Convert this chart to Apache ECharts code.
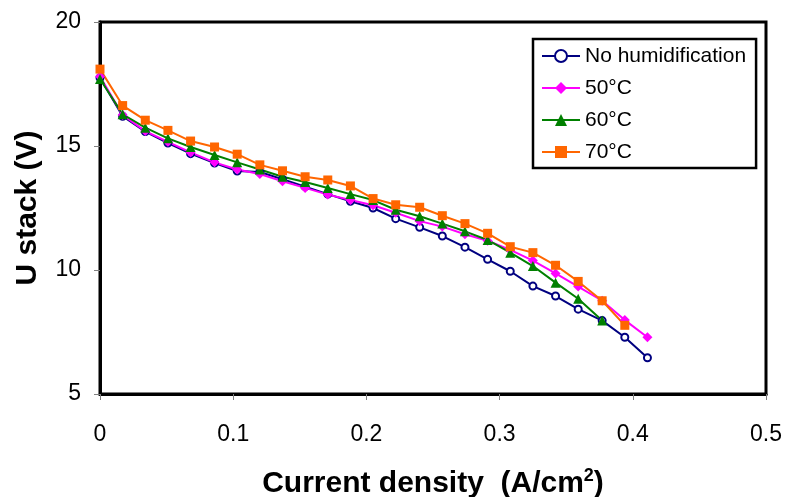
<!DOCTYPE html>
<html>
<head>
<meta charset="utf-8">
<script src="https://cdn.jsdelivr.net/npm/echarts@6/dist/echarts.min.js"></script>
<style>
html,body{margin:0;padding:0;background:#fff;}
#chart{width:791px;height:497px;}
</style>
</head>
<body>
<div id="chart"></div>
<script>
const currentDensity = [0, 0.017, 0.034, 0.051, 0.068, 0.086, 0.103, 0.120, 0.137, 0.154, 0.171, 0.188, 0.205, 0.222, 0.240, 0.257, 0.274, 0.291, 0.308, 0.325, 0.342, 0.359, 0.377, 0.394, 0.411];
const noHumid = [17.75, 16.20, 15.58, 15.12, 14.69, 14.31, 13.99, 13.95, 13.66, 13.36, 13.06, 12.77, 12.50, 12.07, 11.72, 11.37, 10.92, 10.43, 9.95, 9.35, 8.95, 8.42, 7.96, 7.29, 6.46];
const humid50 = [17.80, 16.25, 15.60, 15.17, 14.74, 14.34, 14.05, 13.87, 13.58, 13.31, 13.04, 12.82, 12.61, 12.31, 11.97, 11.75, 11.44, 11.18, 10.81, 10.38, 9.86, 9.33, 8.76, 7.98, 7.29];
const humid60 = [17.70, 16.28, 15.74, 15.31, 14.96, 14.64, 14.34, 14.05, 13.76, 13.55, 13.31, 13.06, 12.82, 12.43, 12.17, 11.87, 11.56, 11.21, 10.70, 10.16, 9.49, 8.84, 7.96];
const humid70 = [18.10, 16.63, 16.04, 15.63, 15.20, 14.96, 14.67, 14.24, 14.00, 13.76, 13.63, 13.39, 12.88, 12.63, 12.53, 12.19, 11.87, 11.48, 10.94, 10.70, 10.19, 9.54, 8.76, 7.77];
const seriesNames = ['No humidification', '50°C', '60°C', '70°C'];
const xTicks = [0, 0.1, 0.2, 0.3, 0.4, 0.5];
const yTicks = [5, 10, 15, 20];

function pairs(ys) { return ys.map((v, i) => [currentDensity[i], v]); }

const FONT = "'Liberation Sans', Arial, sans-serif";
const chart = echarts.init(document.getElementById('chart'), null, {renderer: 'canvas'});

const specs = [
  {data: noHumid, color: '#000080', symbol: 'emptyCircle', size: 7},
  {data: humid50, color: '#FF00FF', symbol: 'diamond', size: 10},
  {data: humid60, color: '#008000', symbol: 'triangle', size: 10},
  {data: humid70, color: '#FF6600', symbol: 'rect', size: 9}
];

chart.setOption({
  animation: false,
  backgroundColor: '#fff',
  textStyle: {fontFamily: FONT},
  grid: {left: 100, right: 25, top: 22, bottom: 103, show: true, borderColor: '#000', borderWidth: 3, backgroundColor: 'transparent', containLabel: false, outerBoundsMode: 'none'},
  legend: {
    orient: 'vertical', left: 533, top: 39,
    data: seriesNames,
    backgroundColor: '#fff',
    borderColor: '#000', borderWidth: 2.5, borderRadius: 0,
    padding: [6, 10, 5, 8],
    itemGap: 10, itemWidth: 38, itemHeight: 15,
    textStyle: {fontFamily: FONT, fontSize: 21, color: '#000', lineHeight: 22}
  },
  xAxis: {
    type: 'value', min: xTicks[0], max: xTicks[xTicks.length - 1], interval: 0.1,
    name: '{a|Current density  (A/cm}{s|2}{a|)}',
    nameLocation: 'middle', nameGap: 73,
    nameTextStyle: {
      rich: {
        a: {fontFamily: FONT, fontSize: 30, fontWeight: 'bold', color: '#000', lineHeight: 34},
        s: {fontFamily: FONT, fontSize: 18, fontWeight: 'bold', color: '#000', lineHeight: 18, verticalAlign: 'top'}
      }
    },
    axisLine: {show: true, lineStyle: {color: '#000', width: 3}},
    axisTick: {show: true, inside: false, length: 6, lineStyle: {color: '#808080', width: 1}},
    axisLabel: {fontFamily: FONT, fontSize: 23, color: '#000', margin: 29},
    splitLine: {show: false}
  },
  yAxis: {
    type: 'value', min: yTicks[0], max: yTicks[yTicks.length - 1], interval: 5,
    name: 'U stack (V)',
    nameLocation: 'middle', nameGap: 57, nameRotate: 90,
    nameTextStyle: {fontFamily: FONT, fontSize: 30, fontWeight: 'bold', color: '#000'},
    axisLine: {show: true, lineStyle: {color: '#000', width: 3}},
    axisTick: {show: true, inside: false, length: 6, lineStyle: {color: '#808080', width: 1}},
    axisLabel: {fontFamily: FONT, fontSize: 23, color: '#000', margin: 19},
    splitLine: {show: false}
  },
  series: specs.map((s, i) => ({
    name: seriesNames[i],
    type: 'line',
    data: pairs(s.data),
    symbol: s.symbol,
    symbolSize: s.size,
    showAllSymbol: true,
    color: s.color,
    lineStyle: {color: s.color, width: 2},
    itemStyle: {color: s.color, borderColor: s.color, borderWidth: s.symbol === 'emptyCircle' ? 2 : 0},
    emphasis: {disabled: true}
  }))
});
</script>
</body>
</html>
